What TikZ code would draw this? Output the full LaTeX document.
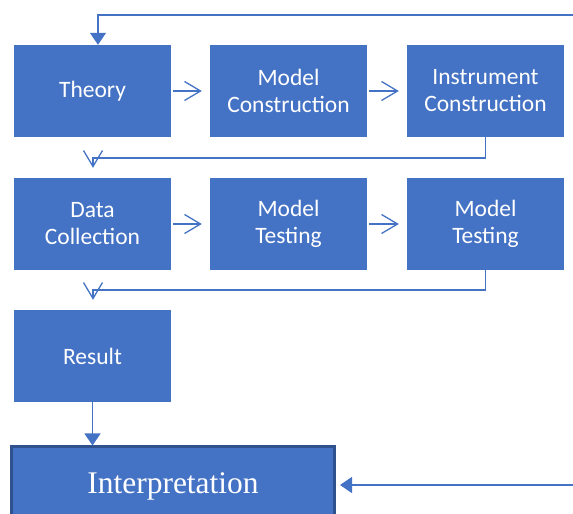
\documentclass[tikz,border=0pt]{standalone}
\usepackage{fontspec}
\setmainfont{Carlito}
\newfontfamily\serifface{Liberation Serif}
\usetikzlibrary{arrows.meta}

\definecolor{boxblue}{HTML}{4472C4}
\definecolor{rimblue}{HTML}{2F528F}

\tikzset{
  stage/.style={fill=boxblue, text=white, minimum width=157pt, minimum height=92pt,
    inner sep=0pt, align=center, font=\fontsize{23.5}{27}\selectfont},
  interp/.style={fill=boxblue, draw=rimblue, line width=3pt, text=white,
    minimum width=323pt, minimum height=90pt, inner sep=0pt, text depth=17pt,
    font=\serifface\fontsize{31.5}{36}\selectfont},
  flow/.style={draw=boxblue, line width=1.3pt, -{Straight Barb[length=16pt,width=19pt]}},
  feed/.style={draw=boxblue, line width=1.3pt, -{Triangle[length=12pt,width=16pt]}}
}

\begin{document}
\begin{tikzpicture}[x=1pt,y=1pt]
\useasboundingbox (0,0) rectangle (573,514);

% stages of the study
\node[stage] (theory) at (92.5,423) {Theory};
\node[stage] (modcon) at (288.5,423) {Model\\Construction};
\node[stage] (inscon) at (485.5,423) {Instrument\\Construction};
\node[stage] (datcol) at (92.5,290) {Data\\Collection};
\node[stage] (modtest) at (288.5,290) {Model\\Testing};
\node[stage] (modtestb) at (485.5,290) {Model\\Testing};
\node[stage] (result) at (92.5,158) {Result};
% runs off the bottom edge
\node[interp] (interpret) at (173,22) {Interpretation};

% arrows along each row
\draw[flow] ([xshift=2pt]theory.east) -- ([xshift=-8pt]modcon.west);
\draw[flow] ([xshift=2pt]modcon.east) -- ([xshift=-8pt]inscon.west);
\draw[flow] ([xshift=2pt]datcol.east) -- ([xshift=-8pt]modtest.west);
\draw[flow] ([xshift=2pt]modtest.east) -- ([xshift=-8pt]modtestb.west);

% wrap from one row to the next
\coordinate (bendA) at (93,356);
\coordinate (bendB) at (93,224);
\draw[flow, shorten >=10pt] (inscon.south) |- (bendA) -- (bendA |- datcol.north);
\draw[flow, shorten >=10pt] (modtestb.south) |- (bendB) -- (bendB |- result.north);

% feedback lines
\coordinate (topin) at (573,499);
\coordinate (sidein) at (573,29);
\draw[feed] (topin) -| ([xshift=5.5pt]theory.north);
\draw[feed] (result.south) -- (result.south |- interpret.north);
\draw[feed, shorten >=4pt] (sidein) -- (sidein -| interpret.east);
\end{tikzpicture}
\end{document}
